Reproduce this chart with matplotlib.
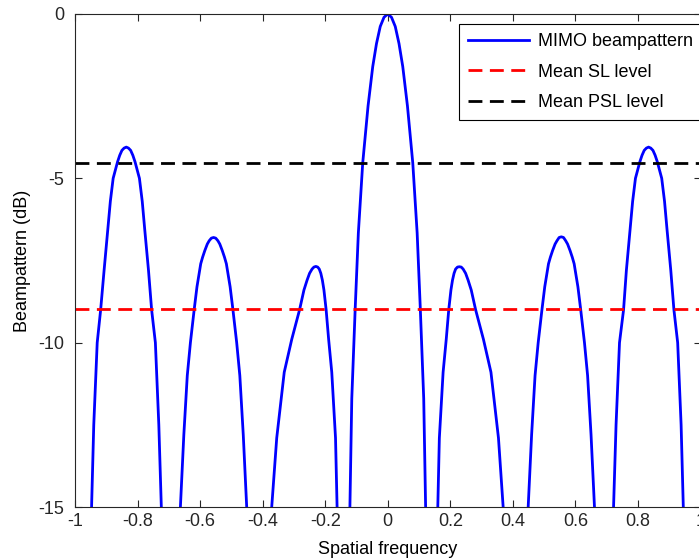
import matplotlib
matplotlib.use('Agg')
import matplotlib.pyplot as plt

plt.rcParams['font.family'] = ['Liberation Sans', 'DejaVu Sans']
plt.rcParams['axes.unicode_minus'] = False

# beampattern (dB); -25 points are nulls hidden below the axis
freq = [
    -0.960,
    -0.947, -0.940, -0.929, -0.918, -0.907, -0.895, -0.887, -0.878, -0.871, -0.864, -0.857, -0.850, -0.843,
    -0.836,
    -0.829, -0.822, -0.815, -0.808, -0.801, -0.794, -0.785, -0.777, -0.765, -0.755, -0.743, -0.732, -0.724,
    -0.695,
    -0.663, -0.652, -0.641, -0.631, -0.619, -0.610, -0.598, -0.592, -0.585, -0.577, -0.571, -0.564,
    -0.557,
    -0.550, -0.543, -0.537, -0.529, -0.522, -0.516, -0.504, -0.495, -0.483, -0.473, -0.462, -0.451,
    -0.410,
    -0.371, -0.355, -0.331, -0.307, -0.282, -0.268, -0.258, -0.250, -0.242, -0.236,
    -0.230,
    -0.224, -0.219, -0.214, -0.209, -0.204, -0.197, -0.189, -0.179, -0.167, -0.162,
    -0.142,
    -0.121, -0.115, -0.104, -0.094, -0.080, -0.063, -0.048, -0.036, -0.024, -0.012,
    0.000,
    0.012, 0.024, 0.036, 0.048, 0.063, 0.080, 0.094, 0.104, 0.115, 0.121,
    0.140,
    0.160, 0.165, 0.177, 0.187, 0.195, 0.202, 0.207, 0.212, 0.217, 0.223,
    0.229,
    0.235, 0.241, 0.249, 0.257, 0.267, 0.281, 0.306, 0.330, 0.354, 0.369,
    0.410,
    0.449, 0.460, 0.471, 0.481, 0.493, 0.502, 0.514, 0.520, 0.527, 0.535, 0.541, 0.548,
    0.555,
    0.562, 0.569, 0.575, 0.583, 0.590, 0.596, 0.608, 0.617, 0.629, 0.639, 0.650, 0.661,
    0.690,
    0.722, 0.730, 0.741, 0.754, 0.763, 0.775, 0.783, 0.792, 0.799, 0.806, 0.813, 0.820, 0.827,
    0.834,
    0.841, 0.848, 0.855, 0.862, 0.869, 0.876, 0.885, 0.893, 0.905, 0.915, 0.927, 0.938, 0.945,
    0.960,
]
beam_db = [
    -25.0,
    -15.0, -12.5, -10.0, -9.0, -7.8, -6.56, -5.7, -5.0, -4.75, -4.5, -4.3, -4.15, -4.08,
    -4.05,
    -4.08, -4.15, -4.3, -4.5, -4.75, -5.0, -5.7, -6.56, -7.8, -9.0, -10.0, -12.5, -15.0,
    -25.0,
    -15.0, -12.8, -11.0, -10.0, -9.0, -8.3, -7.6, -7.4, -7.2, -7.0, -6.9, -6.82,
    -6.8,
    -6.82, -6.9, -7.0, -7.2, -7.4, -7.6, -8.3, -9.0, -10.0, -11.0, -12.8, -15.0,
    -25.0,
    -15.0, -12.9, -10.9, -9.9, -9.0, -8.4, -8.1, -7.89, -7.76, -7.7,
    -7.68,
    -7.7, -7.76, -7.89, -8.1, -8.4, -9.0, -9.9, -10.9, -12.9, -15.0,
    -25.0,
    -15.0, -11.7, -8.94, -6.66, -4.53, -2.8, -1.6, -0.9, -0.38, -0.1,
    0.0,
    -0.1, -0.38, -0.9, -1.6, -2.8, -4.53, -6.66, -8.94, -11.7, -15.0,
    -25.0,
    -15.0, -12.9, -10.9, -9.9, -9.0, -8.4, -8.1, -7.89, -7.76, -7.7,
    -7.69,
    -7.7, -7.76, -7.89, -8.1, -8.4, -9.0, -9.9, -10.9, -12.9, -15.0,
    -25.0,
    -15.0, -12.8, -11.0, -10.0, -9.0, -8.3, -7.6, -7.4, -7.2, -7.0, -6.9, -6.8,
    -6.78,
    -6.8, -6.9, -7.0, -7.2, -7.4, -7.6, -8.3, -9.0, -10.0, -11.0, -12.8, -15.0,
    -25.0,
    -15.0, -12.5, -10.0, -9.0, -7.8, -6.56, -5.7, -5.0, -4.75, -4.5, -4.3, -4.15, -4.08,
    -4.05,
    -4.08, -4.15, -4.3, -4.5, -4.75, -5.0, -5.7, -6.56, -7.8, -9.0, -10.0, -12.5, -15.0,
    -25.0,
]
mean_sl = -8.98
mean_psl = -4.54

xticks = [-1, -0.8, -0.6, -0.4, -0.2, 0, 0.2, 0.4, 0.6, 0.8, 1]
xticklabels = ['-1', '-0.8', '-0.6', '-0.4', '-0.2', '0', '0.2', '0.4', '0.6', '0.8', '1']
yticks = [-15, -10, -5, 0]
yticklabels = ['-15', '-10', '-5', '0']

fig = plt.figure(figsize=(6.99, 5.59), dpi=100)
# right edge of the axes sits just outside the picture, as in the reference
ax = fig.add_axes([75 / 699, 52 / 559, 625.5 / 699, 493 / 559])

ax.plot(freq, beam_db, color='#0000ff', lw=2.0, label='MIMO beampattern')
ax.axhline(mean_sl, color='#ff0000', lw=2.0, dashes=(5, 2.7), label='Mean SL level')
ax.axhline(mean_psl, color='black', lw=2.0, dashes=(5, 2.7), label='Mean PSL level')

ax.set_xlim(-1, 1)
ax.set_ylim(-15, 0)
ax.set_xticks(xticks)
ax.set_xticklabels(xticklabels)
ax.set_yticks(yticks)
ax.set_yticklabels(yticklabels)
ax.tick_params(direction='in', length=5, width=0.8, top=True, right=True,
               labelsize=13, colors='#262626')
ax.tick_params(axis='x', pad=4)
ax.tick_params(axis='y', pad=8)
for sp in ax.spines.values():
    sp.set_linewidth(0.8)
    sp.set_color('#262626')

ax.set_xlabel('Spatial frequency', fontsize=13, labelpad=8)
ax.set_ylabel('Beampattern (dB)', fontsize=13, labelpad=5)

leg = ax.legend(loc='upper left', bbox_to_anchor=(459 / 699, 1 - 24 / 559),
                bbox_transform=fig.transFigure, fontsize=13, fancybox=False,
                framealpha=1, edgecolor='black', borderaxespad=0,
                borderpad=0.5, handlelength=3.35, handletextpad=0.55,
                labelspacing=0.75)
leg.get_frame().set_linewidth(0.8)

fig.savefig('out.png', dpi=100)
